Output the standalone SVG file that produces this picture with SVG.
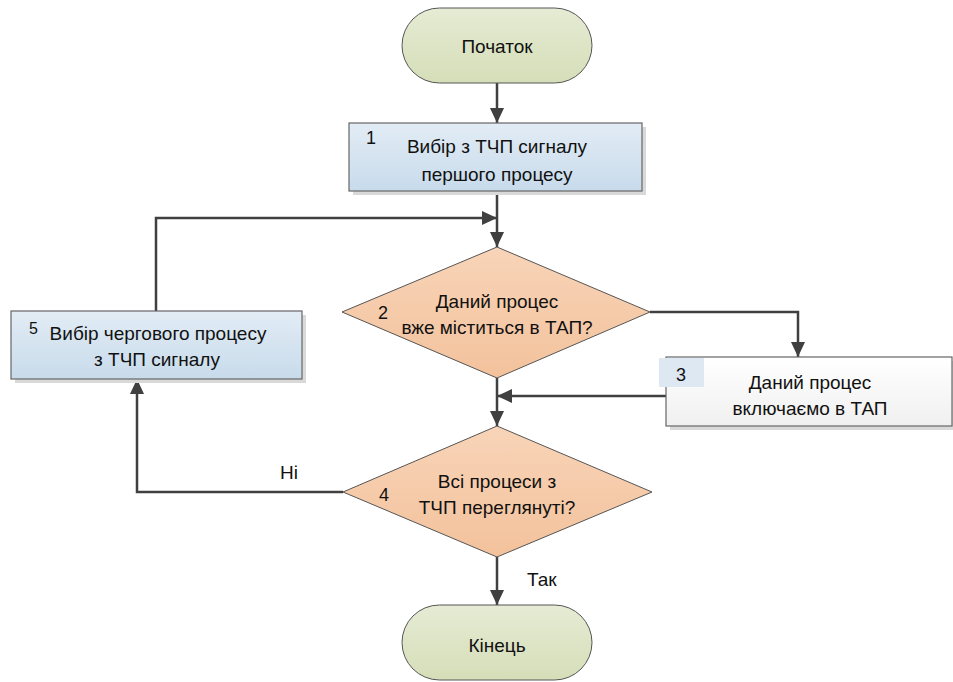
<svg xmlns="http://www.w3.org/2000/svg" width="953" height="682" viewBox="0 0 953 682">
<style>
text{font-family:"Liberation Sans",Arial,sans-serif;font-size:19px;fill:#111}
.c{text-anchor:middle}
.n{font-size:18px}
.s{font-size:16px}
.edge{fill:none;stroke:#404040;stroke-width:2.5}
.term{fill:url(#gTerm);stroke:#555;stroke-width:1}
.proc{fill:url(#gProc);stroke:#666;stroke-width:1.2}
.dec{fill:url(#gDec);stroke:#555;stroke-width:1}
.sh{fill:#d9d9d9}
</style>
<defs>
<linearGradient id="gTerm" x1="0" y1="0" x2="0" y2="1"><stop offset="0" stop-color="#e6ebd4"/><stop offset="1" stop-color="#d5deb8"/></linearGradient>
<linearGradient id="gProc" x1="0" y1="0" x2="0" y2="1"><stop offset="0" stop-color="#e2ecf5"/><stop offset="1" stop-color="#c8dbeb"/></linearGradient>
<linearGradient id="gWhite" x1="0" y1="0" x2="0" y2="1"><stop offset="0" stop-color="#ffffff"/><stop offset="1" stop-color="#f0f0f0"/></linearGradient>
<linearGradient id="gDec" x1="0" y1="0" x2="0" y2="1"><stop offset="0" stop-color="#f8d4b8"/><stop offset="1" stop-color="#f3c29c"/></linearGradient>
<marker id="arr" markerUnits="userSpaceOnUse" markerWidth="16" markerHeight="14" refX="15" refY="7" orient="auto"><path d="M0,0 L15,7 L0,14 z" fill="#404040"/></marker>
</defs>
<rect width="953" height="682" fill="#ffffff"/>
<g id="connectors">
<path class="edge" d="M497,83 L497,123" marker-end="url(#arr)"/>
<path class="edge" d="M497,191 L497,247" marker-end="url(#arr)"/>
<path class="edge" d="M156,311 L156,218 L497,218" marker-end="url(#arr)"/>
<path class="edge" d="M650,312 L798,312 L798,357" marker-end="url(#arr)"/>
<path class="edge" d="M497,378 L497,426" marker-end="url(#arr)"/>
<path class="edge" d="M666,396 L497,396" marker-end="url(#arr)"/>
<path class="edge" d="M343,492 L137,492 L137,379" marker-end="url(#arr)"/>
<path class="edge" d="M497,557 L497,605" marker-end="url(#arr)"/>
</g>
<g id="start">
<rect class="term" x="402" y="8" width="190" height="75" rx="37.5"/>
<text class="c" x="497" y="53">Початок</text>
</g>
<g id="n1">
<rect class="sh" x="353" y="127" width="293" height="68"/>
<rect class="proc" x="349" y="123" width="293" height="68"/>
<text class="n" x="366" y="144">1</text>
<text class="c" x="497" y="153">Вибір з ТЧП сигналу</text>
<text class="c" x="497" y="181">першого процесу</text>
</g>
<g id="n2">
<polygon class="dec" points="497,247 650,312 497,378 342,312"/>
<text class="n" x="378" y="319">2</text>
<text class="c" x="497" y="308">Даний процес</text>
<text class="c" x="497" y="334">вже міститься в ТАП?</text>
</g>
<g id="n3">
<rect class="sh" x="670" y="361" width="283" height="69"/>
<rect x="666" y="357" width="286" height="69" fill="url(#gWhite)" stroke="#666" stroke-width="1.2"/>
<rect x="659" y="358" width="45" height="29" fill="#dde8f2"/>
<text class="n" x="676" y="381">3</text>
<text class="c" x="810" y="389">Даний процес</text>
<text class="c" x="810" y="415">включаємо в ТАП</text>
</g>
<g id="n4">
<polygon class="dec" points="497,426 652,492 497,557 343,492"/>
<text class="n" x="379" y="501">4</text>
<text class="c" x="497" y="488">Всі процеси з</text>
<text class="c" x="497" y="514">ТЧП переглянуті?</text>
</g>
<g id="n5">
<rect class="sh" x="15" y="315" width="291" height="68"/>
<rect class="proc" x="11" y="311" width="291" height="68"/>
<text class="s" x="29" y="334">5</text>
<text class="c" x="158" y="340">Вибір чергового процесу</text>
<text class="c" x="157" y="366">з ТЧП сигналу</text>
</g>
<g id="end">
<rect class="term" x="402" y="605" width="190" height="75" rx="37.5"/>
<text class="c" x="497" y="652">Кінець</text>
</g>
<text x="280" y="479">Ні</text>
<text x="527" y="586">Так</text>
</svg>
